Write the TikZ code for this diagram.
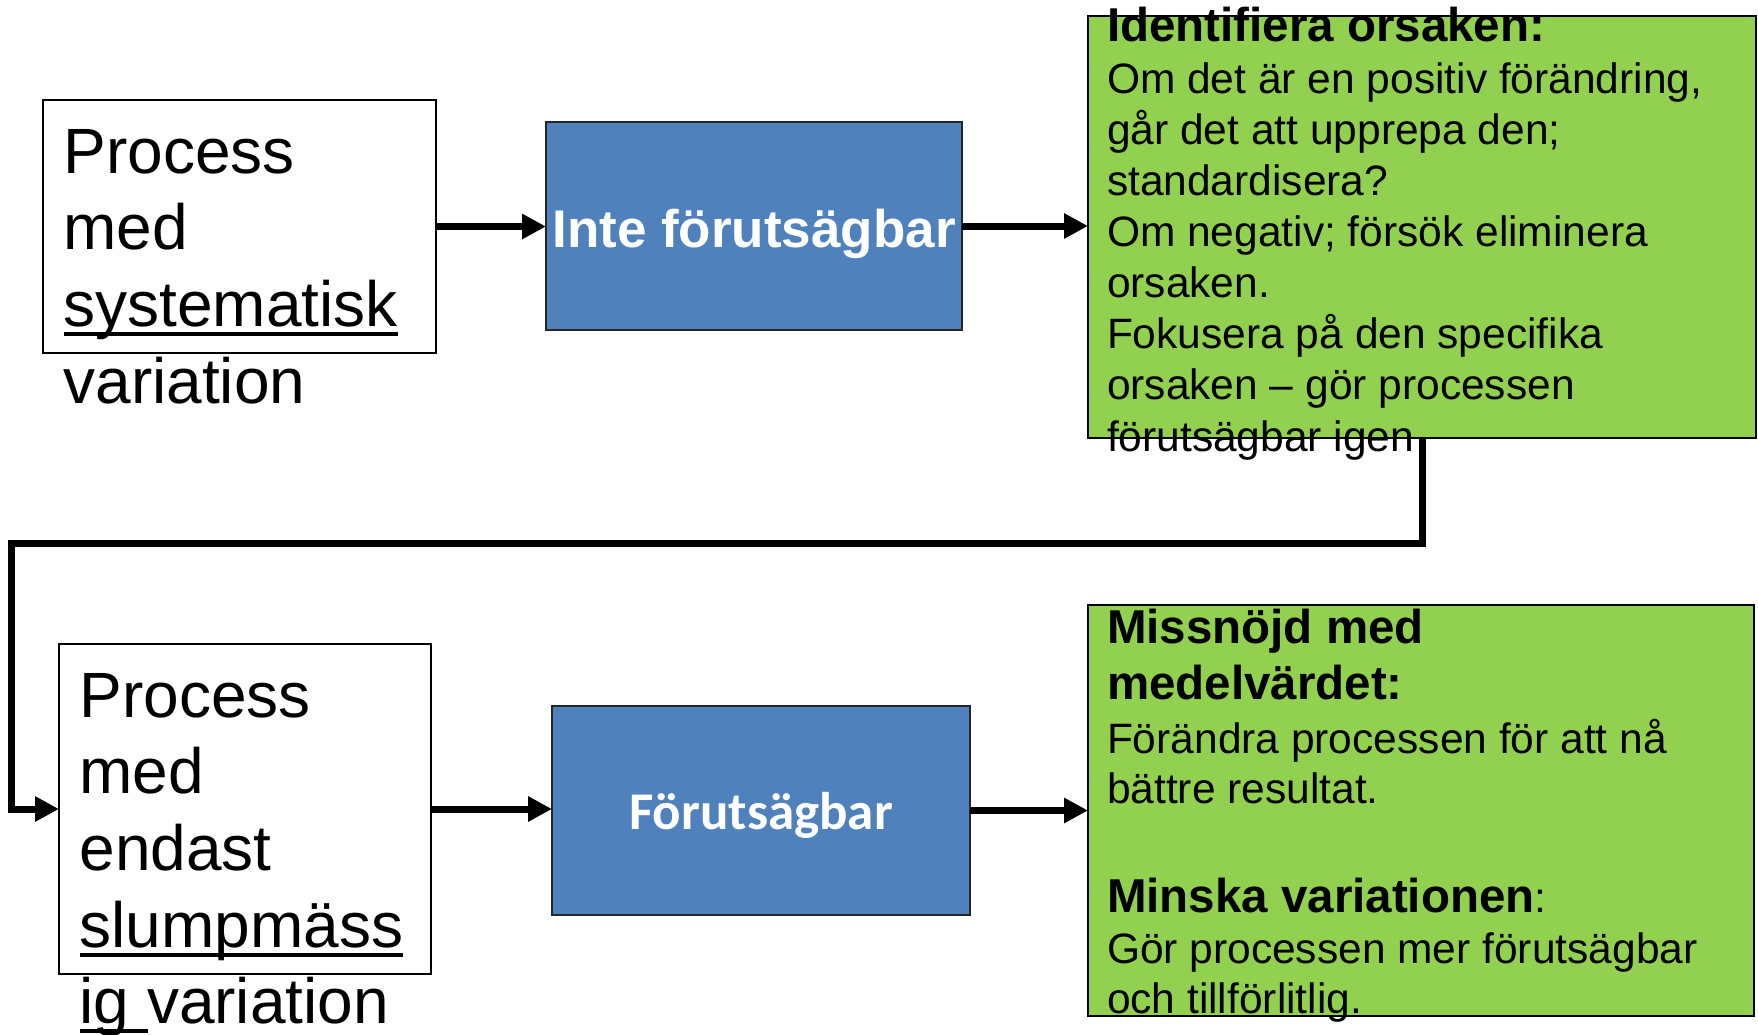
\documentclass[tikz,border=0pt]{standalone}
\usepackage{fontspec}
\setmainfont{Liberation Sans}
\newfontfamily\calibrifont{Carlito}
\usetikzlibrary{arrows.meta}
\definecolor{boxblue}{HTML}{4F81BD}
\definecolor{boxgreen}{HTML}{92D050}
\begin{document}
\begin{tikzpicture}[x=1pt,y=-1pt,
  rectbox/.style={rectangle, draw=black, line width=2pt, inner sep=0pt, outer sep=0pt},
  whitebox/.style={rectbox, fill=white},
  bluebox/.style={rectbox, draw=black!85, fill=boxblue, text=white},
  greenbox/.style={rectbox, fill=boxgreen},
  txt/.style={anchor=base west, inner sep=0pt, outer sep=0pt},
  bigtxt/.style={txt, font=\fontsize{64}{77}\selectfont},
  headtxt/.style={txt, font=\fontsize{47.5}{57}\selectfont\bfseries},
  bodytxt/.style={txt, font=\fontsize{42.5}{51}\selectfont},
  conn/.style={line width=7pt, -{Triangle[length=24pt,width=24pt]}},
  uline/.style={line width=3.5pt}
]
\useasboundingbox (0,0) rectangle (1758,1034);

% boxes
\node[whitebox, minimum width=393pt, minimum height=253pt] (box1) at (239.5,226.5) {};
\node[bluebox, minimum width=416pt, minimum height=208pt, text height=42pt, text depth=0pt,
      font=\fontsize{53}{64}\selectfont\bfseries] (blue1) at (754,226) {Inte förutsägbar};
\node[greenbox, minimum width=668pt, minimum height=422pt] (green1) at (1422,227) {};

\node[whitebox, minimum width=372pt, minimum height=330pt] (box2) at (245,809) {};
\node[bluebox, minimum width=418pt, minimum height=209pt, text height=37pt, text depth=0pt,
      font=\fontsize{53}{64}\calibrifont\bfseries] (blue2) at (761,810.5) {Förutsägbar};
\node[greenbox, minimum width=666pt, minimum height=411pt] (green2) at (1421,810.5) {};

% texts of box 1
\node[bigtxt] (b1l1) at (63.5,173) {Process};
\node[bigtxt] (b1l2) at (63.5,249) {med};
\node[bigtxt] (b1l3) at (63.5,326) {systematisk};
\node[bigtxt] (b1l4) at (63.5,403) {variation};
\draw[uline] ([yshift=-8pt]b1l3.base west) -- ([yshift=-8pt]b1l3.base east);

% texts of box 2
\node[bigtxt] (b2l1) at (79.5,717) {Process};
\node[bigtxt] (b2l2) at (79.5,793) {med};
\node[bigtxt] (b2l3) at (79.5,870) {endast};
\node[bigtxt] (b2l4) at (79.5,947) {slumpmäss};
\node[bigtxt] (b2l5) at (79.5,1023) {ig variation};
\draw[uline] ([yshift=-8pt]b2l4.base west) -- ([yshift=-8pt]b2l4.base east);
\draw[uline] ([yshift=-8pt]b2l5.base west) -- ++(68,0);

% texts of green box 1
\node[headtxt] (g1h) at (1107,41) {Identifiera orsaken:};
\node[bodytxt] (g1l1) at (1107,93) {Om det är en positiv förändring,};
\node[bodytxt] (g1l2) at (1107,144) {går det att upprepa den;};
\node[bodytxt] (g1l3) at (1107,195) {standardisera?};
\node[bodytxt] (g1l4) at (1107,246) {Om negativ; försök eliminera};
\node[bodytxt] (g1l5) at (1107,297) {orsaken.};
\node[bodytxt] (g1l6) at (1107,348) {Fokusera på den specifika};
\node[bodytxt] (g1l7) at (1107,399) {orsaken – gör processen};
\node[bodytxt] (g1l8) at (1107,451) {förutsägbar igen};

% texts of green box 2
\node[headtxt] (g2h1) at (1107,643) {Missnöjd med};
\node[headtxt] (g2h2) at (1107,699) {medelvärdet:};
\node[bodytxt] (g2l1) at (1107,753) {Förändra processen för att nå};
\node[bodytxt] (g2l2) at (1107,803) {bättre resultat.};
\node[bodytxt] (g2h3) at (1107,912) {{\fontsize{47.5}{57}\selectfont\bfseries Minska variationen}:};
\node[bodytxt] (g2l3) at (1107,963) {Gör processen mer förutsägbar};
\node[bodytxt] (g2l4) at (1107,1013) {och tillförlitlig.};

% connectors
\coordinate (turn) at (11,543);
\draw[conn] (box1.east) -- (box1.east -| blue1.west);
\draw[conn] (blue1.east) -- (blue1.east -| green1.west);
\draw[conn] (green1.south) |- (turn) |- (box2.west);
\draw[conn] (box2.east) -- (box2.east -| blue2.west);
\draw[conn] (blue2.east) -- (blue2.east -| green2.west);
\end{tikzpicture}
\end{document}
